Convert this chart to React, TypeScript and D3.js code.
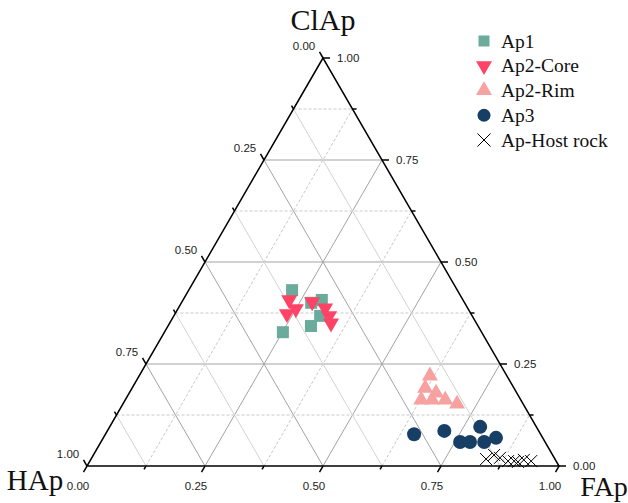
import React from "react";
import * as d3 from "d3";

// ternary data: [ClAp, FAp, HAp]
const ap1: number[][] = [
  [0.431, 0.219, 0.35],
  [0.328, 0.251, 0.421],
  [0.4, 0.275, 0.325],
  [0.407, 0.294, 0.299],
  [0.343, 0.303, 0.354],
  [0.368, 0.31, 0.322],
];
const ap2Core: number[][] = [
  [0.407, 0.225, 0.368],
  [0.373, 0.237, 0.39],
  [0.385, 0.25, 0.365],
  [0.402, 0.276, 0.322],
  [0.387, 0.311, 0.302],
  [0.368, 0.329, 0.303],
  [0.35, 0.342, 0.308],
];
const ap2Rim: number[][] = [
  [0.221, 0.616, 0.163],
  [0.191, 0.621, 0.188],
  [0.179, 0.65, 0.171],
  [0.162, 0.627, 0.211],
  [0.162, 0.65, 0.188],
  [0.162, 0.678, 0.16],
  [0.152, 0.708, 0.14],
];
const ap3: number[][] = [
  [0.078, 0.654, 0.268],
  [0.086, 0.714, 0.2],
  [0.096, 0.785, 0.119],
  [0.059, 0.761, 0.18],
  [0.059, 0.782, 0.159],
  [0.059, 0.812, 0.129],
  [0.069, 0.832, 0.099],
];
const hostRock: number[][] = [
  [0.017, 0.837, 0.146],
  [0.027, 0.849, 0.124],
  [0.02, 0.865, 0.115],
  [0.012, 0.886, 0.102],
  [0.012, 0.899, 0.089],
  [0.01, 0.908, 0.082],
  [0.015, 0.918, 0.067],
  [0.012, 0.935, 0.053],
];
const majorTicks = [0, 0.25, 0.5, 0.75, 1];
const minorTicks = [0.125, 0.375, 0.625, 0.875];
const legendLabels = ["Ap1", "Ap2-Core", "Ap2-Rim", "Ap3", "Ap-Host rock"];

const C_AP1 = "#6aab9c";
const C_CORE = "#fe4466";
const C_RIM = "#f7a1a1";
const C_AP3 = "#173f66";

const xS = d3.scaleLinear().domain([0, 1]).range([87, 559]);
const yS = d3.scaleLinear().domain([0, 1]).range([466, 58]);

// c = ClAp, f = FAp
const P = (c: number, f: number): [number, number] => [xS(f + c / 2), yS(c)];

const tick = "Liberation Sans, Arial, sans-serif";
const serif = "Liberation Serif, Times New Roman, serif";

function Square({ x, y, s, fill }: any) {
  return <rect x={x - s / 2} y={y - s / 2} width={s} height={s} fill={fill} />;
}
function TriDown({ x, y, s, fill }: any) {
  const h = s * 0.866;
  return (
    <path
      d={`M${x - s / 2},${y - h / 3}L${x + s / 2},${y - h / 3}L${x},${y + (2 * h) / 3}Z`}
      fill={fill}
    />
  );
}
function TriUp({ x, y, s, fill }: any) {
  const h = s * 0.866;
  return (
    <path
      d={`M${x - s / 2},${y + h / 3}L${x + s / 2},${y + h / 3}L${x},${y - (2 * h) / 3}Z`}
      fill={fill}
    />
  );
}
function Cross({ x, y, s }: any) {
  const r = s / 2;
  return (
    <path
      d={`M${x - r},${y - r}L${x + r},${y + r}M${x - r},${y + r}L${x + r},${y - r}`}
      stroke="#000"
      strokeWidth={1}
      fill="none"
    />
  );
}

export default function App() {
  const grid: any[] = [];
  const all = [...majorTicks.slice(1, 4).map((v) => ({ v, major: true })), ...minorTicks.map((v) => ({ v, major: false }))];
  all.forEach(({ v, major }, i) => {
    const majorStyle = { stroke: "#a3a3a3", strokeWidth: 1 };
    const solidMinor = { stroke: "#d2d2d2", strokeWidth: 1 };
    const dashMinor = { stroke: "#c8c8c8", strokeWidth: 1, strokeDasharray: "3,2" };
    const a1 = P(v, 0), b1 = P(v, 1 - v);
    grid.push(<line key={"c" + i} x1={a1[0]} y1={a1[1]} x2={b1[0]} y2={b1[1]} {...(major ? majorStyle : dashMinor)} />);
    const a2 = P(0, v), b2 = P(1 - v, v);
    grid.push(<line key={"f" + i} x1={a2[0]} y1={a2[1]} x2={b2[0]} y2={b2[1]} {...(major ? majorStyle : dashMinor)} />);
    const a3 = P(1 - v, 0), b3 = P(0, 1 - v);
    grid.push(<line key={"h" + i} x1={a3[0]} y1={a3[1]} x2={b3[0]} y2={b3[1]} {...(major ? majorStyle : solidMinor)} />);
  });

  const T = P(1, 0), L = P(0, 0), R = P(0, 1);
  const axisStroke = { stroke: "#000", strokeWidth: 1.5 };
  const ticks: any[] = [];
  const labels: any[] = [];
  const tickList = [...majorTicks.map((v) => ({ v, len: 7 })), ...minorTicks.map((v) => ({ v, len: 4 }))];
  tickList.forEach(({ v, len }, i) => {
    const b = P(0, v);
    ticks.push(<line key={"bt" + i} x1={b[0]} y1={b[1]} x2={b[0] - 0.5 * len} y2={b[1] + 0.866 * len} {...axisStroke} />);
    const r = P(v, 1 - v);
    ticks.push(<line key={"rt" + i} x1={r[0]} y1={r[1]} x2={r[0] + len} y2={r[1]} {...axisStroke} />);
    const l = P(1 - v, 0);
    ticks.push(<line key={"lt" + i} x1={l[0]} y1={l[1]} x2={l[0] - 0.5 * len} y2={l[1] - 0.866 * len} {...axisStroke} />);
  });
  majorTicks.forEach((v, i) => {
    const txt = v.toFixed(2);
    const b = P(0, v);
    labels.push(
      <text key={"bl" + i} x={b[0] - 9} y={b[1] + 21} textAnchor="middle" dominantBaseline="middle" fontFamily={tick} fontSize={11.5} fill="#222">
        {txt}
      </text>
    );
    const r = P(v, 1 - v);
    labels.push(
      <text key={"rl" + i} x={r[0] + 14} y={r[1] + 1} textAnchor="start" dominantBaseline="middle" fontFamily={tick} fontSize={11.5} fill="#222">
        {txt}
      </text>
    );
    const l = P(1 - v, 0);
    labels.push(
      <text key={"ll" + i} x={l[0] - 19} y={l[1] - 11} textAnchor="middle" dominantBaseline="middle" fontFamily={tick} fontSize={11.5} fill="#222">
        {txt}
      </text>
    );
  });

  const legendY = d3.scalePoint<string>().domain(legendLabels).range([41, 140]);

  return (
    <svg width={628} height={503} style={{ position: "absolute", left: 0, top: 0, background: "#fff" }}>
      <g>{grid}</g>
      <path d={`M${T[0]},${T[1]}L${L[0]},${L[1]}L${R[0]},${R[1]}Z`} fill="none" {...axisStroke} />
      <g>{ticks}</g>
      <g>{labels}</g>
      <text x={323} y={30} textAnchor="middle" fontFamily={serif} fontSize={30} fill="#111">ClAp</text>
      <text x={35} y={490} textAnchor="middle" fontFamily={serif} fontSize={29} fill="#111">HAp</text>
      <text x={604} y={496} textAnchor="middle" fontFamily={serif} fontSize={28} fill="#111">FAp</text>

      {ap1.map((d, i) => {
        const [x, y] = P(d[0], d[1]);
        return <Square key={"a1" + i} x={x} y={y} s={12} fill={C_AP1} />;
      })}
      {ap2Core.map((d, i) => {
        const [x, y] = P(d[0], d[1]);
        return <TriDown key={"a2c" + i} x={x} y={y} s={16} fill={C_CORE} />;
      })}
      {ap2Rim.map((d, i) => {
        const [x, y] = P(d[0], d[1]);
        return <TriUp key={"a2r" + i} x={x} y={y} s={16} fill={C_RIM} />;
      })}
      {ap3.map((d, i) => {
        const [x, y] = P(d[0], d[1]);
        return <circle key={"a3" + i} cx={x} cy={y} r={7} fill={C_AP3} />;
      })}
      {hostRock.map((d, i) => {
        const [x, y] = P(d[0], d[1]);
        return <Cross key={"hr" + i} x={x} y={y} s={12} />;
      })}

      <g>
        <Square x={484} y={legendY("Ap1")!} s={11} fill={C_AP1} />
        <TriDown x={484} y={legendY("Ap2-Core")!} s={16} fill={C_CORE} />
        <TriUp x={484} y={legendY("Ap2-Rim")!} s={16} fill={C_RIM} />
        <circle cx={484} cy={legendY("Ap3")!} r={6.5} fill={C_AP3} />
        <Cross x={484} y={legendY("Ap-Host rock")!} s={13} />
        {legendLabels.map((l) => (
          <text key={l} x={501} y={legendY(l)! + 6.5} fontFamily={serif} fontSize={19.5} fill="#111">
            {l}
          </text>
        ))}
      </g>
    </svg>
  );
}
